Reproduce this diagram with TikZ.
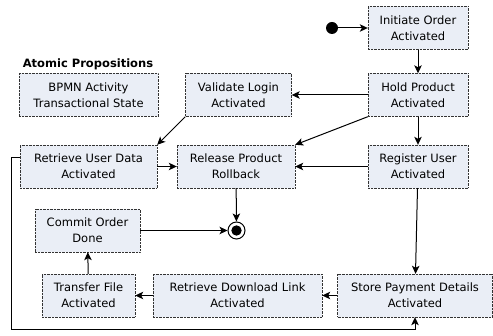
\documentclass[tikz,border=0pt]{standalone}
\usepackage{fontspec}
\setmainfont{DejaVu Sans}
\usetikzlibrary{arrows.meta}

\definecolor{boxfill}{RGB}{234,238,246}

\tikzset{
  state/.style={draw=black!80, densely dotted, fill=boxfill, align=center,
    minimum height=43pt, inner sep=2pt,
    font=\fontsize{11.5}{16}\selectfont},
  arr/.style={-{Stealth[length=8pt,width=7.5pt,inset=2pt]}, line width=1pt},
}

\begin{document}
\begin{tikzpicture}[x=1pt, y=-1pt]
  \useasboundingbox (0,0) rectangle (493,336);

  % Legend
  \node[font=\fontsize{11.5}{14}\selectfont\bfseries] (legendtitle) at (88,64) {Atomic Propositions};
  \node[state, minimum width=139pt] (legend) at (88.5,95) {BPMN Activity\\Transactional State};

  % Start and end
  \node[circle, fill=black, minimum size=12pt, inner sep=0pt] (start) at (332,28) {};
  \node[circle, draw=black, line width=1pt, minimum size=17pt, inner sep=0pt] (finish) at (236.5,230.5) {};
  \fill (finish.center) circle (5.2pt);

  % States
  \node[state, minimum width=100pt] (initiate) at (418,28) {Initiate Order\\Activated};
  \node[state, minimum width=100pt] (hold) at (418,95) {Hold Product\\Activated};
  \node[state, minimum width=106pt] (login) at (238.5,95) {Validate Login\\Activated};
  \node[state, minimum width=137pt] (userdata) at (88.5,166.5) {Retrieve User Data\\Activated};
  \node[state, minimum width=118pt] (release) at (236,166.5) {Release Product\\Rollback};
  \node[state, minimum width=100pt] (register) at (418,166.5) {Register User\\Activated};
  \node[state, minimum width=105pt] (commit) at (87.5,230.5) {Commit Order\\Done};
  \node[state, minimum width=93pt] (transfer) at (88.5,295.5) {Transfer File\\Activated};
  \node[state, minimum width=169pt] (link) at (237.5,295.5) {Retrieve Download Link\\Activated};
  \node[state, minimum width=155pt] (payment) at (415,295.5) {Store Payment Details\\Activated};

  % Transitions
  \draw[arr] (start) -- (initiate);
  \draw[arr] (initiate) -- (hold);
  \draw[arr] (hold) -- (login);
  \draw[arr] (hold) -- (register);
  \draw[arr] (hold.south west) -- (release.north east);
  \draw[arr] (login.south west) -- (userdata.north east);
  \draw[arr] (userdata) -- (release);
  \draw[arr] (register) -- (release);
  \draw[arr] (release) -- (finish);
  \draw[arr] (commit) -- (finish);
  \draw[arr] (register) -- (payment);
  \draw[arr] (payment) -- (link);
  \draw[arr] (link) -- (transfer);
  \draw[arr] (transfer) -- (commit);

  % Loop round the bottom
  \coordinate (loop) at (11,330);
  \draw[arr] ([yshift=8.5pt]userdata.west) -| (loop) -| (payment.south);
\end{tikzpicture}
\end{document}
